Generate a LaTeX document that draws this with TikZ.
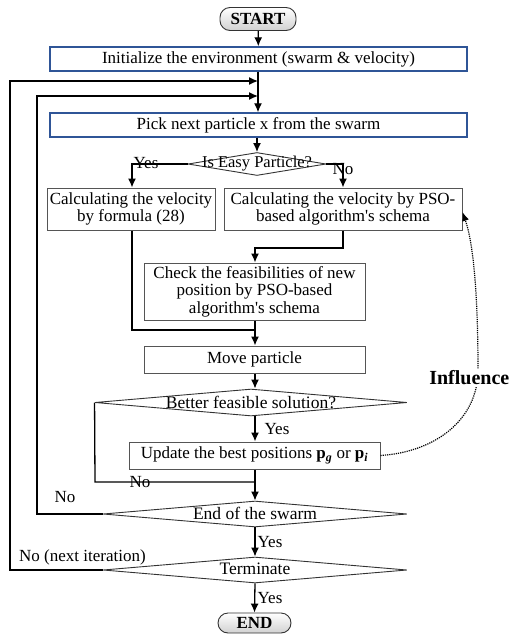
\documentclass[tikz,border=0pt]{standalone}
\usepackage{fontspec}
\setmainfont{Liberation Serif}
\usetikzlibrary{arrows.meta,shapes.geometric}
\definecolor{boxblue}{HTML}{2F5597}
\definecolor{boxgray}{HTML}{555555}
\begin{document}
\begin{tikzpicture}[x=1pt,y=-1pt,
  every node/.style={font=\fontsize{17}{17.5}\selectfont, inner sep=0pt},
  bluebox/.style={draw=boxblue, line width=1.4pt, minimum width=417pt, minimum height=24pt},
  graybox/.style={draw=boxgray, line width=1pt, align=center},
  terminal/.style={draw=black!80, line width=0.9pt, rounded corners=10pt, top color=white, bottom color=black!18, font=\fontsize{17}{17}\selectfont\bfseries},
  dia/.style={draw=black!80, line width=0.9pt, diamond},
  diatext/.style={font=\fontsize{17.5}{17.5}\selectfont},
  flow/.style={line width=1.3pt, -{Latex[length=9pt,width=8pt]}},
  plain/.style={line width=1.3pt},
  lbl/.style={font=\fontsize{17}{17}\selectfont},
  infl/.style={line width=1.2pt, densely dotted, -{Latex[length=9pt,width=7pt]}}
]
\useasboundingbox (0,0) rectangle (512,635);

% nodes
\node[terminal, minimum width=76pt, minimum height=23pt] (start) at (258,19) {START};
\node[bluebox] (init) at (258.5,59) {Initialize the environment (swarm \& velocity)};
\node[bluebox] (pick) at (258.5,125) {Pick next particle x from the swarm};
\node[dia, minimum width=138pt, minimum height=23pt] (d1) at (257,164) {};
\node[font=\fontsize{16.5}{16.5}\selectfont] (d1t) at (257,163.5) {Is Easy Particle?};
\node[graybox, minimum width=168pt, minimum height=42pt] (c1) at (131,209) {Calculating the velocity\\by formula (28)};
\node[graybox, minimum width=238pt, minimum height=42pt] (c2) at (343,209) {Calculating the velocity by PSO-\\based algorithm\textquotesingle s schema};
\node[graybox, minimum width=221pt, minimum height=57pt] (chk) at (254.5,291.5) {Check the feasibilities of new\\position by PSO-based\\algorithm\textquotesingle s schema};
\node[graybox, minimum width=221pt, minimum height=27pt] (move) at (254.5,359.5) {Move particle};
\node[dia, minimum width=312pt, minimum height=27pt] (d2) at (251,402.5) {};
\node[diatext] (d2t) at (251,402) {Better feasible solution?};
\node[graybox, minimum width=251pt, minimum height=27pt] (upd) at (254.5,455.5) {Update the best positions \textbf{p}\textsubscript{\textbf{\textit{g}}} or \textbf{p}\textsubscript{\textbf{\textit{i}}}};
\node[dia, minimum width=304pt, minimum height=26pt] (d3) at (255,514) {};
\node[diatext] (d3t) at (255,513) {End of the swarm};
\node[dia, minimum width=304pt, minimum height=26pt] (d4) at (255,570) {};
\node[diatext] (d4t) at (255,569) {Terminate};
\node[terminal, minimum width=73pt, minimum height=20pt] (end) at (254.5,623) {END};

% helper coordinates
\coordinate (m1) at (258,81);
\coordinate (m2) at (258,96);
\coordinate (j1) at (255,330);
\coordinate (j2) at (255,482);

% connectors
\draw[flow] (start) -- (init);
\draw[flow] (init.south -| m1) -- (pick.north -| m1);
\draw[flow] (d4.west) -- (10,570) -- (10,81) -- (m1);
\draw[flow] (d3.west) -- (37,514) -- (37,96) -- (m2);
\draw[flow] (pick.south -| d1.north) -- (d1.north);
\draw[flow] (d1.west) -- (132,164) -- (c1.north -| 132,0);
\draw[flow] (d1.east) -- (343,164) -- (c2.north);
\draw[flow] (c2.south) -- (343,248) -- (255,248) -- (chk.north -| 255,0);
\draw[plain] (c1.south -| 132,0) -- (132,330) -- (j1);
\draw[flow] (chk.south -| j1) -- (move.north -| j1);
\draw[flow] (move.south -| j1) -- (d2.north -| j1);
\draw[flow] (d2.south -| j1) -- (upd.north -| j1);
\draw[plain] (d2.west) -- (95,482) -- (j2);
\draw[flow] (upd.south -| j1) -- (d3.north);
\draw[flow] (d3.south) -- (d4.north);
\draw[flow] (d4.south) -- (end.north);

% labels
\node[lbl] (l1) at (146,163) {Yes};
\node[lbl] (l2) at (343,169) {No};
\node[lbl] (l3) at (277,429) {Yes};
\node[lbl] (l4) at (140,482) {No};
\node[lbl] (l5) at (65,497) {No};
\node[lbl] (l6) at (270,542) {Yes};
\node[lbl, anchor=west] (l7) at (19,557) {No (next iteration)};
\node[lbl] (l8) at (270,598) {Yes};

% influence
\draw[infl] (upd.east) .. controls (435,452) and (478,420) .. (478,370) .. controls (478,300) and (474,245) .. (c2.east |- 0,212);
\node[anchor=east, fill=white, inner sep=1.5pt, font=\fontsize{20}{20}\selectfont\bfseries] (infl) at (511,378) {Influence};
\end{tikzpicture}
\end{document}
